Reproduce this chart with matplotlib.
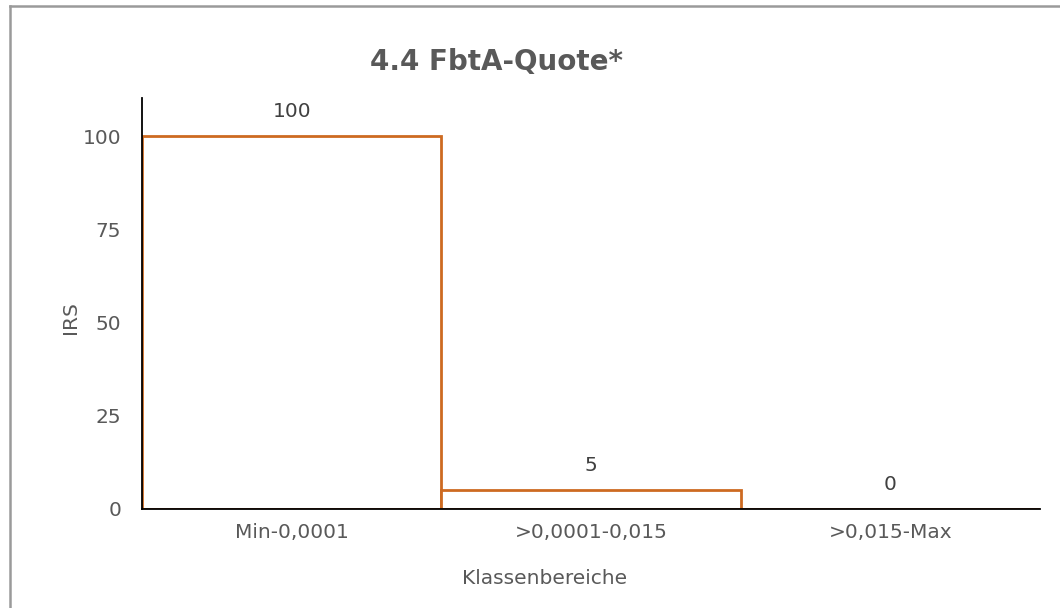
import matplotlib
matplotlib.use("Agg")
import matplotlib.pyplot as plt
from matplotlib.lines import Line2D

categories = ["Min-0,0001", ">0,0001-0,015", ">0,015-Max"]
values = [100, 5, 0]
yticks = [0, 25, 50, 75, 100]
title = "4.4 FbtA-Quote*"
xlabel = "Klassenbereiche"
ylabel = "IRS"

W, H = 1060, 608
fig = plt.figure(figsize=(W / 100, H / 100), dpi=100)
plt.rcParams['font.family'] = ['DejaVu Sans']

ax_l, ax_r, ax_b, ax_t = 142, 1040, 509, 98
ax = fig.add_axes([ax_l / W, 1 - ax_b / H, (ax_r - ax_l) / W, (ax_b - ax_t) / H])

edge = "#CD6A21"
x = list(range(len(categories)))
bars = ax.bar(x, values, width=1.0, facecolor="white", edgecolor=edge, linewidth=2, zorder=2)
ax.set_xlim(-0.5, len(categories) - 0.5)
ax.set_ylim(0, 110.2)
ax.set_yticks(yticks)
ax.set_xticks(x)
ax.set_xticklabels(categories)
ax.tick_params(axis="both", length=0, labelsize=14.5, colors="#595959")
ax.tick_params(axis="x", pad=10)
ax.tick_params(axis="y", pad=15)
for s in ["top", "right"]:
    ax.spines[s].set_visible(False)
ax.spines["left"].set_color("black")
ax.spines["bottom"].set_color("black")
ax.spines["left"].set_linewidth(1.3)
ax.spines["bottom"].set_linewidth(1.3)
ax.spines["bottom"].set_zorder(3)

for xi, v in zip(x, values):
    ax.annotate(str(v), (xi, v), xytext=(0, 11), textcoords="offset points",
                ha="center", va="bottom", fontsize=14.5, color="#404040")

fig.text(497 / W, 1 - 62 / H, title, ha="center", va="center", fontsize=20,
         fontweight="bold", color="#595959")
fig.text(545 / W, 1 - 578 / H, xlabel, ha="center", va="center", fontsize=14.5, color="#595959")
fig.text(70 / W, 1 - 318 / H, ylabel, ha="center", va="center", fontsize=14.5,
         color="#595959", rotation=90)

# outer frame
fig.add_artist(Line2D([10 / W, 10 / W], [0, 1 - 6 / H], transform=fig.transFigure,
                      color="#9a9a9a", linewidth=1.8))
fig.add_artist(Line2D([10 / W, 1], [1 - 6 / H, 1 - 6 / H], transform=fig.transFigure,
                      color="#9a9a9a", linewidth=1.8))

fig.savefig("out.png", dpi=100)
